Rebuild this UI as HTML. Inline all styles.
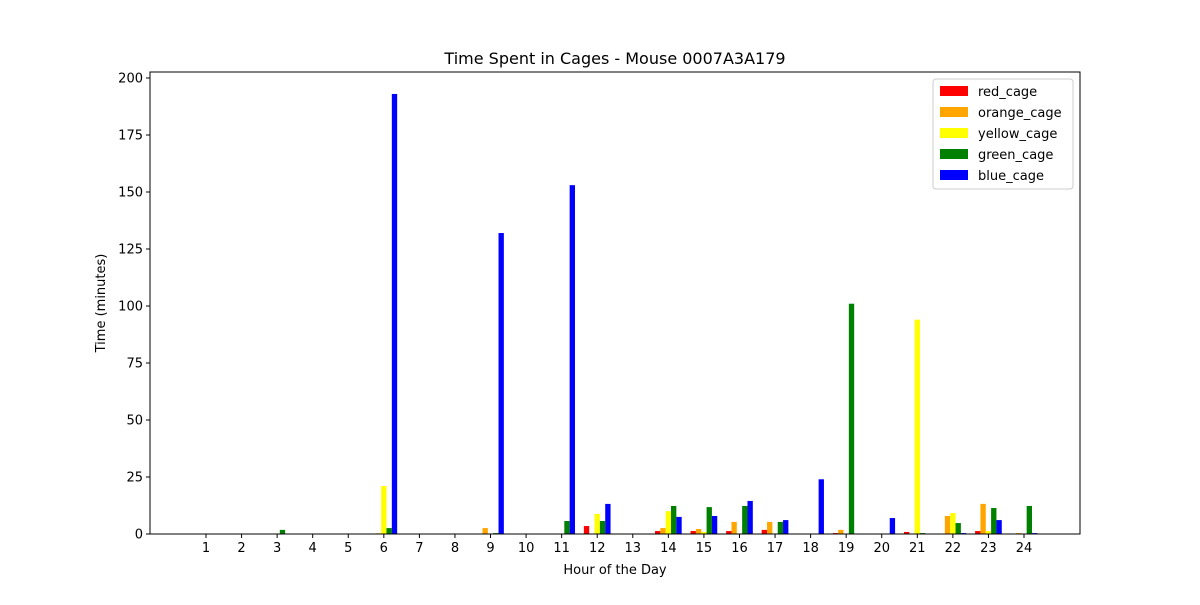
<!DOCTYPE html>
<html><head><meta charset="utf-8"><style>
body{margin:0;background:#fff;font-family:"Liberation Sans","DejaVu Sans",sans-serif;}
</style></head><body>
<svg id="chart" width="1200" height="600" xmlns="http://www.w3.org/2000/svg" font-family="DejaVu Sans, Liberation Sans, sans-serif">
<rect width="1200" height="600" fill="#fff"/>
<text x="615" y="64" font-size="16" text-anchor="middle">Time Spent in Cages - Mouse 0007A3A179</text>
<text x="615" y="574" font-size="13" text-anchor="middle">Hour of the Day</text>
<text transform="translate(105,303) rotate(-90)" font-size="13" text-anchor="middle">Time (minutes)</text>
<g id="bars"></g>
<g id="axes"></g>
<g>
<rect x="933" y="79" width="140" height="110" rx="3" fill="#fff" stroke="#ccc"/>
<g id="legend-items"></g>
</g>
</svg>
<script>
const hours=[1,2,3,4,5,6,7,8,9,10,11,12,13,14,15,16,17,18,19,20,21,22,23,24];
const seriesNames=["red_cage","orange_cage","yellow_cage","green_cage","blue_cage"];
const seriesColors=["#ff0000","#ffa500","#ffff00","#008000","#0000ff"];
const redCage=[0,0,0,0,0,0,0,0,0,0,0,3.5,0,1.3,1.3,1.3,1.8,0,0.4,0,0.9,0,1.3,0];
const orangeCage=[0,0,0.2,0,0,0.3,0,0,2.6,0,0,0,0,2.6,2.2,5.3,5.3,0,1.8,0,0,7.9,13.2,0.4];
const yellowCage=[0,0,0,0,0,21,0,0,0,0,0,8.8,0,10,0.9,0,0,0,0,0,94,9.2,1.3,0];
const greenCage=[0,0,1.8,0,0,2.6,0,0,0.4,0,5.7,5.7,0,12.3,11.8,12.3,5.3,0,101,0,0.4,4.8,11.4,12.3];
const blueCage=[0,0,0,0,0,193,0,0,132,0,153,13.2,0,7.5,7.9,14.5,6.1,24,0,7,0,0.4,6.1,0.4];
const yTicks=[0,25,50,75,100,125,150,175,200];
const series=[redCage,orangeCage,yellowCage,greenCage,blueCage];
const NS="http://www.w3.org/2000/svg";
const L=150,R=1080,T=72,B=534;
const xScale=h=>206+(h-1)*(1024-206)/23;
const yScale=v=>B-v*(B-78)/200;
const bw=0.15*(1024-206)/23;
const bars=document.getElementById('bars');
series.forEach((s,si)=>{
  s.forEach((v,i)=>{
    const cx=xScale(hours[i])+(si-2)*bw;
    const r=document.createElementNS(NS,'rect');
    
    
    r.setAttribute('x',cx-bw/2);r.setAttribute('width',bw);
    r.setAttribute('y',yScale(v));r.setAttribute('height',Math.max(0,B-yScale(v)));
    r.setAttribute('fill',seriesColors[si]);
    bars.appendChild(r);
  });
});
const axes=document.getElementById('axes');
let h='<rect x="'+L+'" y="'+T+'" width="'+(R-L)+'" height="'+(B-T)+'" fill="none" stroke="#000" stroke-width="1"/>';
axes.innerHTML=h;
hours.forEach(hr=>{
  const x=xScale(hr);
  const g=document.createElementNS(NS,'g');
  
  
  g.innerHTML='<line x1="'+x+'" x2="'+x+'" y1="'+B+'" y2="'+(B+4)+'" stroke="#000"/><text x="'+x+'" y="'+(B+18)+'" font-size="13" text-anchor="middle">'+hr+'</text>';
  axes.appendChild(g);
});
yTicks.forEach(v=>{
  const y=yScale(v);
  const g=document.createElementNS(NS,'g');
  
  
  g.innerHTML='<line x1="'+(L-4)+'" x2="'+L+'" y1="'+y+'" y2="'+y+'" stroke="#000"/><text x="'+(L-7)+'" y="'+(y+4.5)+'" font-size="13" text-anchor="end">'+v+'</text>';
  axes.appendChild(g);
});
const li=document.getElementById('legend-items');
seriesNames.forEach((n,i)=>{
  const y=91+i*21;
  const g=document.createElementNS(NS,'g');
  
  
  g.innerHTML='<rect x="940" y="'+(y-5)+'" width="28" height="10" fill="'+seriesColors[i]+'"/><text x="978" y="'+(y+5)+'" font-size="13">'+n+'</text>';
  li.appendChild(g);
});
</script>
</body></html>
